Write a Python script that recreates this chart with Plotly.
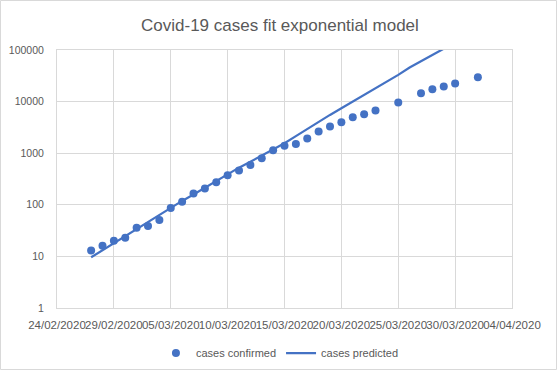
import plotly.graph_objects as go

# ---- data ----
confirmed_dates = [
    "2020-02-27", "2020-02-28", "2020-02-29", "2020-03-01", "2020-03-02",
    "2020-03-03", "2020-03-04", "2020-03-05", "2020-03-06", "2020-03-07",
    "2020-03-08", "2020-03-09", "2020-03-10", "2020-03-11", "2020-03-12",
    "2020-03-13", "2020-03-14", "2020-03-15", "2020-03-16", "2020-03-17",
    "2020-03-18", "2020-03-19", "2020-03-20", "2020-03-21", "2020-03-22",
    "2020-03-23", "2020-03-25", "2020-03-27", "2020-03-28", "2020-03-29",
    "2020-03-30", "2020-04-01",
]
cases_confirmed = [
    13, 16, 20, 23, 36, 39, 51, 87, 115, 166,
    207, 273, 373, 460, 590, 798, 1140, 1400, 1500, 1930,
    2630, 3300, 3983, 5000, 5690, 6700, 9600, 14543, 17300, 19700,
    22400, 29600,
]

predicted_dates = [
    "2020-02-27", "2020-02-28", "2020-02-29", "2020-03-01", "2020-03-02",
    "2020-03-03", "2020-03-04", "2020-03-05", "2020-03-06", "2020-03-07",
    "2020-03-08", "2020-03-09", "2020-03-10", "2020-03-11", "2020-03-12",
    "2020-03-13", "2020-03-14", "2020-03-15", "2020-03-16", "2020-03-17",
    "2020-03-18", "2020-03-19", "2020-03-20", "2020-03-21", "2020-03-22",
    "2020-03-23", "2020-03-24", "2020-03-25", "2020-03-26", "2020-03-27",
    "2020-03-28", "2020-03-29",
]
cases_predicted = [
    9.6, 13.2, 18.2, 24.5, 33.9, 46.8, 63.1, 87.1, 119, 158,
    214, 288, 398, 525, 684, 891, 1175, 1556, 2138, 2951,
    4074, 5521, 7447, 10000, 13490, 18197, 24547, 32961, 45709, 59841,
    79433, 105925,
]

y_tickvals = [1, 10, 100, 1000, 10000, 100000]
y_ticktext = ["1", "10", "100", "1000", "10000", "100000"]

title_text = "Covid-19 cases fit exponential model"

# ---- style ----
BLUE = "#4472C4"
GRID = "#d9d9d9"
TXT = "#595959"
FONT = "Liberation Sans"

W, H = 557, 370
ML, MR, MT, MB = 57, 45, 50, 62
PW, PH = W - ML - MR, H - MT - MB

fig = go.Figure()
fig.add_trace(go.Scatter(
    x=confirmed_dates, y=cases_confirmed, mode="markers",
    name="cases confirmed",
    marker=dict(color=BLUE, size=8),
))
fig.add_trace(go.Scatter(
    x=predicted_dates, y=cases_predicted, mode="lines",
    name="cases predicted",
    line=dict(color=BLUE, width=2.25),
))

fig.update_layout(
    width=W, height=H,
    autosize=False,
    margin=dict(l=ML, r=MR, t=MT, b=MB, autoexpand=False),
    paper_bgcolor="white", plot_bgcolor="white",
    font=dict(family=FONT, color=TXT, size=11),
    title=dict(text=title_text, x=0.49, xanchor="center", xref="paper",
               y=1 - 25 / H, yanchor="middle",
               font=dict(family=FONT, size=17, color=TXT)),
    legend=dict(orientation="h", x=0.49, xanchor="center",
                y=-(353 - (MT + PH)) / PH, yanchor="middle",
                font=dict(family=FONT, size=11, color=TXT),
                bgcolor="rgba(0,0,0,0)"),
    showlegend=True,
    shapes=[dict(type="rect", xref="paper", yref="paper",
                 x0=(0.5 - ML) / PW, x1=(W - 0.5 - ML) / PW,
                 y0=-(MB - 0.5) / PH, y1=1 + (MT - 0.5) / PH,
                 line=dict(color=GRID, width=1), fillcolor="rgba(0,0,0,0)",
                 layer="below")],
)

fig.update_xaxes(
    type="date",
    range=["2020-02-24", "2020-04-04"],
    tick0="2020-02-24", dtick=5 * 86400000,
    tickformat="%d/%m/%Y", tickangle=0,
    showgrid=True, gridcolor=GRID, gridwidth=1,
    showline=True, linecolor=GRID, linewidth=1, mirror=True,
    ticks="", ticklabelstandoff=6,
    tickfont=dict(family=FONT, size=11.5, color=TXT),
    zeroline=False, automargin=False,
)
fig.update_yaxes(
    type="log", range=[0, 5],
    tickvals=y_tickvals, ticktext=y_ticktext,
    showgrid=True, gridcolor=GRID, gridwidth=1,
    showline=True, linecolor=GRID, linewidth=1, mirror=True,
    ticks="", ticklabelstandoff=10,
    tickfont=dict(family=FONT, size=10.5, color=TXT),
    zeroline=False, automargin=False,
)

fig.write_html("out.html", config=dict(displayModeBar=False),
               post_script="document.body.style.margin='0';")
